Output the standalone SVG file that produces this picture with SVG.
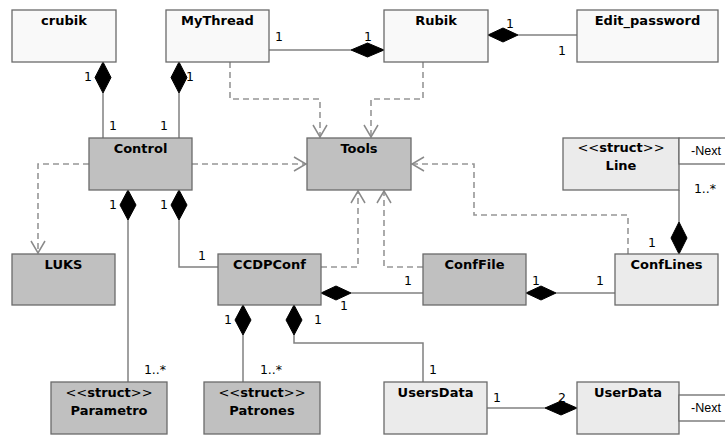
<svg xmlns="http://www.w3.org/2000/svg" width="725" height="436" viewBox="0 0 725 436">
<defs>
<style>
.box{stroke:#6a6a6a;stroke-width:1.3}
.w{fill:#f9f9f9}
.l{fill:#ebebeb}
.g{fill:#c0c0c0}
.t{font-family:"DejaVu Sans",Verdana,sans-serif;font-size:13px;font-weight:bold;fill:#000;text-anchor:middle}
.s{font-family:"DejaVu Sans",Verdana,sans-serif;font-size:13px;fill:#000;text-anchor:middle}
.m{font-family:"DejaVu Sans",Verdana,sans-serif;font-size:12.5px;fill:#000;text-anchor:middle}
.n{font-family:"Liberation Sans",Arial,sans-serif;font-size:12.5px;fill:#000}
.c{fill:none;stroke:#808080;stroke-width:1.5}
.d{fill:none;stroke:#969696;stroke-width:1.6;stroke-dasharray:6,4}
.dia{fill:#000;stroke:#000;stroke-width:1}
</style>
<marker id="open" viewBox="0 0 14 16" refX="13" refY="8" markerWidth="14" markerHeight="16" markerUnits="userSpaceOnUse" orient="auto">
<path d="M1,1 L13,8 L1,15" fill="none" stroke="#8a8a8a" stroke-width="1.5"/>
</marker>
</defs>
<rect width="725" height="436" fill="#fff"/>

<g id="connectors">
<!-- dependencies -->
<path class="d" d="M230,62 V99 H320 V137" marker-end="url(#open)"/>
<path class="d" d="M423,62 V99 H371 V137" marker-end="url(#open)"/>
<path class="d" d="M89,164 H38 V253" marker-end="url(#open)"/>
<path class="d" d="M192,164 H306" marker-end="url(#open)"/>
<path class="d" d="M628,254 V215 H474 V164 H412" marker-end="url(#open)"/>
<path class="d" d="M321,267 H358 V191" marker-end="url(#open)"/>
<path class="d" d="M423,267 H384 V191" marker-end="url(#open)"/>
<!-- compositions -->
<path class="c" d="M269,50 H351"/>
<path class="dia" d="M351,50 L367.5,43 L384,50 L367.5,57 Z"/>
<path class="c" d="M518,35 H577"/>
<path class="dia" d="M488,35 L503,28 L518,35 L503,42 Z"/>
<path class="c" d="M103,93 V138"/>
<path class="dia" d="M103,62 L111,77.5 L103,93 L95,77.5 Z"/>
<path class="c" d="M179,93 V138"/>
<path class="dia" d="M179,62 L187,77.5 L179,93 L171,77.5 Z"/>
<path class="c" d="M128,220 V382"/>
<path class="dia" d="M128,190 L136,205 L128,220 L120,205 Z"/>
<path class="c" d="M179,220 V267 H218"/>
<path class="dia" d="M179,190 L187,205 L179,220 L171,205 Z"/>
<path class="c" d="M351,293 H423"/>
<path class="dia" d="M321,293 L336,286 L351,293 L336,300 Z"/>
<path class="c" d="M556,293 H615"/>
<path class="dia" d="M526,293 L541,286 L556,293 L541,300 Z"/>
<path class="c" d="M679,190 V222"/>
<path class="dia" d="M679,222 L687,238 L679,254 L671,238 Z"/>
<path class="c" d="M243,335 V382"/>
<path class="dia" d="M243,305 L251,320 L243,335 L235,320 Z"/>
<path class="c" d="M294,335 V343 H423 V382"/>
<path class="dia" d="M294,305 L302,320 L294,335 L286,320 Z"/>
<path class="c" d="M487,408 H545"/>
<path class="dia" d="M545,408 L561,401 L577,408 L561,415 Z"/>
<!-- multiplicities -->
<text class="m" x="279" y="41">1</text>
<text class="m" x="368" y="41">1</text>
<text class="m" x="510" y="28">1</text>
<text class="m" x="562" y="55">1</text>
<text class="m" x="88" y="81">1</text>
<text class="m" x="113" y="130">1</text>
<text class="m" x="190" y="81">1</text>
<text class="m" x="164" y="130">1</text>
<text class="m" x="113" y="209">1</text>
<text class="m" x="164" y="209">1</text>
<text class="m" x="202" y="260">1</text>
<text class="m" x="155" y="374">1..*</text>
<text class="m" x="228" y="324">1</text>
<text class="m" x="271" y="374">1..*</text>
<text class="m" x="318" y="324">1</text>
<text class="m" x="433" y="374">1</text>
<text class="m" x="344" y="310">1</text>
<text class="m" x="408" y="285">1</text>
<text class="m" x="536" y="285">1</text>
<text class="m" x="600" y="285">1</text>
<text class="m" x="652" y="247">1</text>
<text class="m" x="705" y="193">1..*</text>
<text class="m" x="497" y="402">1</text>
<text class="m" x="562" y="402">2</text>
</g>

<g id="crubik"><rect class="box w" x="12" y="10" width="104" height="52"/><text class="t" x="64" y="25">crubik</text></g>
<g id="MyThread"><rect class="box w" x="166" y="10" width="103" height="52"/><text class="t" x="217.5" y="25">MyThread</text></g>
<g id="Rubik"><rect class="box w" x="384" y="10" width="104" height="52"/><text class="t" x="436" y="25">Rubik</text></g>
<g id="Edit_password"><rect class="box w" x="577" y="10" width="141" height="52"/><text class="t" x="647.5" y="25">Edit_password</text></g>
<g id="Control"><rect class="box g" x="89" y="138" width="103" height="52"/><text class="t" x="140.5" y="153">Control</text></g>
<g id="Tools"><rect class="box g" x="307" y="138" width="104" height="52"/><text class="t" x="359" y="153">Tools</text></g>
<g id="Line"><rect class="box l" x="563" y="138" width="116" height="52"/><text class="s" x="621" y="152">&lt;&lt;<tspan font-weight="bold">struct</tspan>&gt;&gt;</text><text class="t" x="621" y="170">Line</text>
<rect x="679" y="138" width="50" height="26" fill="#fff" stroke="#6a6a6a" stroke-width="1.3"/><text class="n" x="691" y="155">-Next</text></g>
<g id="LUKS"><rect class="box g" x="12" y="254" width="103" height="51"/><text class="t" x="63.5" y="269">LUKS</text></g>
<g id="CCDPConf"><rect class="box g" x="218" y="254" width="103" height="51"/><text class="t" x="269.5" y="269">CCDPConf</text></g>
<g id="ConfFile"><rect class="box g" x="423" y="254" width="103" height="51"/><text class="t" x="474.5" y="269">ConfFile</text></g>
<g id="ConfLines"><rect class="box l" x="615" y="254" width="103" height="51"/><text class="t" x="666.5" y="269">ConfLines</text></g>
<g id="Parametro"><rect class="box g" x="51" y="382" width="116" height="52"/><text class="s" x="109" y="397">&lt;&lt;<tspan font-weight="bold">struct</tspan>&gt;&gt;</text><text class="t" x="109" y="415">Parametro</text></g>
<g id="Patrones"><rect class="box g" x="204" y="382" width="116" height="52"/><text class="s" x="262" y="397">&lt;&lt;<tspan font-weight="bold">struct</tspan>&gt;&gt;</text><text class="t" x="262" y="415">Patrones</text></g>
<g id="UsersData"><rect class="box l" x="384" y="382" width="103" height="52"/><text class="t" x="435.5" y="397">UsersData</text></g>
<g id="UserData"><rect class="box l" x="577" y="382" width="102" height="52"/><text class="t" x="628" y="397">UserData</text>
<rect x="679" y="395" width="50" height="26" fill="#fff" stroke="#6a6a6a" stroke-width="1.3"/><text class="n" x="691" y="412">-Next</text></g>
</svg>
